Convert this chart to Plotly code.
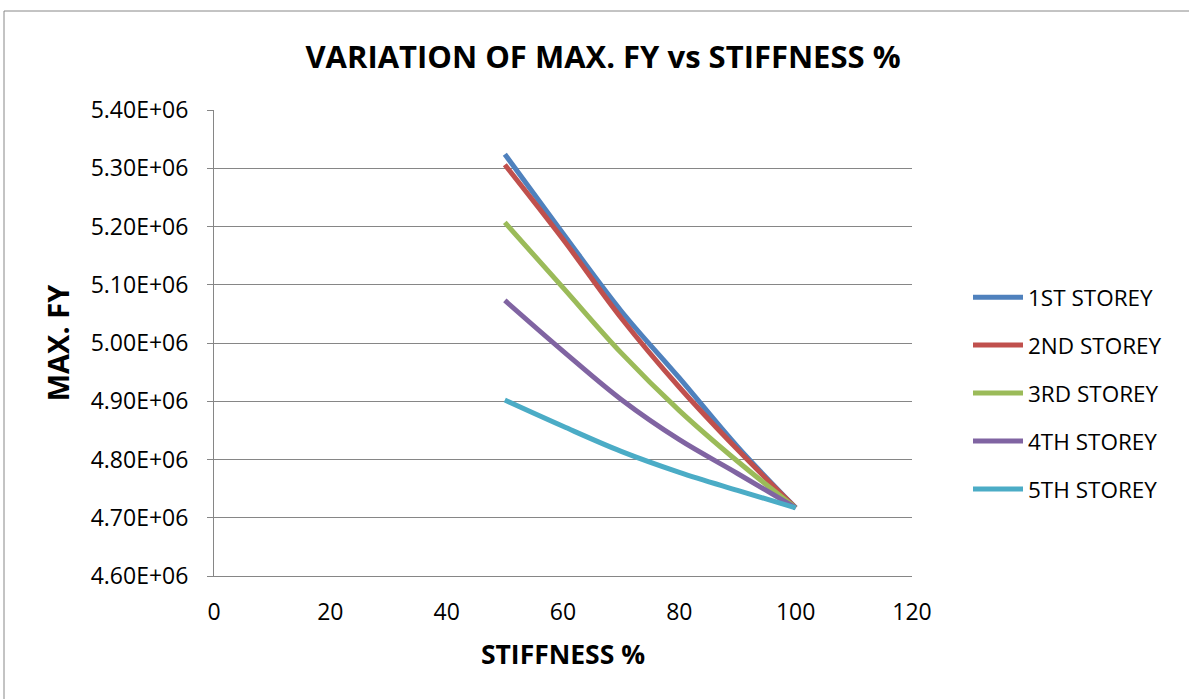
import plotly.graph_objects as go

stiffness = [50, 60, 70, 80, 90, 100]
storey_1 = [5.324e6, 5.188e6, 5.055e6, 4.940e6, 4.822e6, 4.717e6]
storey_2 = [5.306e6, 5.178e6, 5.043e6, 4.924e6, 4.817e6, 4.717e6]
storey_3 = [5.207e6, 5.095e6, 4.983e6, 4.884e6, 4.797e6, 4.717e6]
storey_4 = [5.073e6, 4.986e6, 4.903e6, 4.834e6, 4.776e6, 4.717e6]
storey_5 = [4.902e6, 4.857e6, 4.814e6, 4.778e6, 4.747e6, 4.717e6]

series_names = ["1ST STOREY", "2ND STOREY", "3RD STOREY", "4TH STOREY", "5TH STOREY"]
series_values = [storey_1, storey_2, storey_3, storey_4, storey_5]
colors = ["#4F81BD", "#C0504D", "#9BBB59", "#8064A2", "#4BACC6"]

y_ticks = [4.6e6, 4.7e6, 4.8e6, 4.9e6, 5.0e6, 5.1e6, 5.2e6, 5.3e6, 5.4e6]
y_tick_labels = ["4.60E+06", "4.70E+06", "4.80E+06", "4.90E+06", "5.00E+06",
                 "5.10E+06", "5.20E+06", "5.30E+06", "5.40E+06"]
x_ticks = [0, 20, 40, 60, 80, 100, 120]

FONT = "Open Sans"

fig = go.Figure()
for name, vals, col in zip(series_names, series_values, colors):
    fig.add_trace(go.Scatter(
        x=stiffness, y=vals, name=name, mode="lines",
        line=dict(color=col, width=5, shape="spline", smoothing=1.0),
        legendgroup=name,
    ))

W, H = 1189, 699
L, R, T, B = 214, 277, 110, 123
pw = W - L - R
ph = H - T - B

def px_x(p):
    return (p - L) / pw

def px_y(p):
    return (H - B - p) / ph

fig.update_layout(
    width=W, height=H,
    margin=dict(l=L, r=R, t=T, b=B, pad=0),
    paper_bgcolor="white", plot_bgcolor="white",
    font=dict(family=FONT, color="black"),
    title=dict(text="<b>VARIATION OF MAX. FY vs STIFFNESS %</b>",
               x=603 / W, xanchor="center", y=1 - 57 / H, yanchor="middle",
               font=dict(size=31, family=FONT, color="black")),
    showlegend=True,
    legend=dict(x=px_x(968), y=px_y(276), xanchor="left", yanchor="top",
                font=dict(size=22.5, family=FONT, color="black"),
                traceorder="grouped", tracegroupgap=15.7,
                bgcolor="rgba(0,0,0,0)", itemwidth=50),
    xaxis=dict(range=[0, 120], tickvals=x_ticks, ticktext=[str(v) for v in x_ticks],
               showgrid=False, zeroline=False, showline=True, linecolor="#868686",
               linewidth=1, ticks="", tickfont=dict(size=23, family=FONT),
               ticklabelstandoff=15,
               title=dict(text="<b>STIFFNESS %</b>", font=dict(size=26.5, family=FONT),
                          standoff=19)),
    yaxis=dict(range=[4.6e6, 5.4e6], tickvals=y_ticks, ticktext=y_tick_labels,
               showgrid=True, gridcolor="#868686", gridwidth=1, zeroline=False,
               showline=True, linecolor="#868686", linewidth=1,
               ticks="outside", ticklen=6, tickcolor="#868686",
               tickfont=dict(size=23, family=FONT), ticklabelstandoff=14,
               title=dict(text="<b>MAX. FY</b>", font=dict(size=29, family=FONT),
                          standoff=12)),
    shapes=[dict(type="rect", xref="paper", yref="paper",
                 x0=px_x(4), x1=px_x(1195), y0=px_y(705), y1=px_y(11),
                 line=dict(color="#888888", width=1), fillcolor="rgba(0,0,0,0)",
                 layer="below")],
)

fig.write_html("out.html")
